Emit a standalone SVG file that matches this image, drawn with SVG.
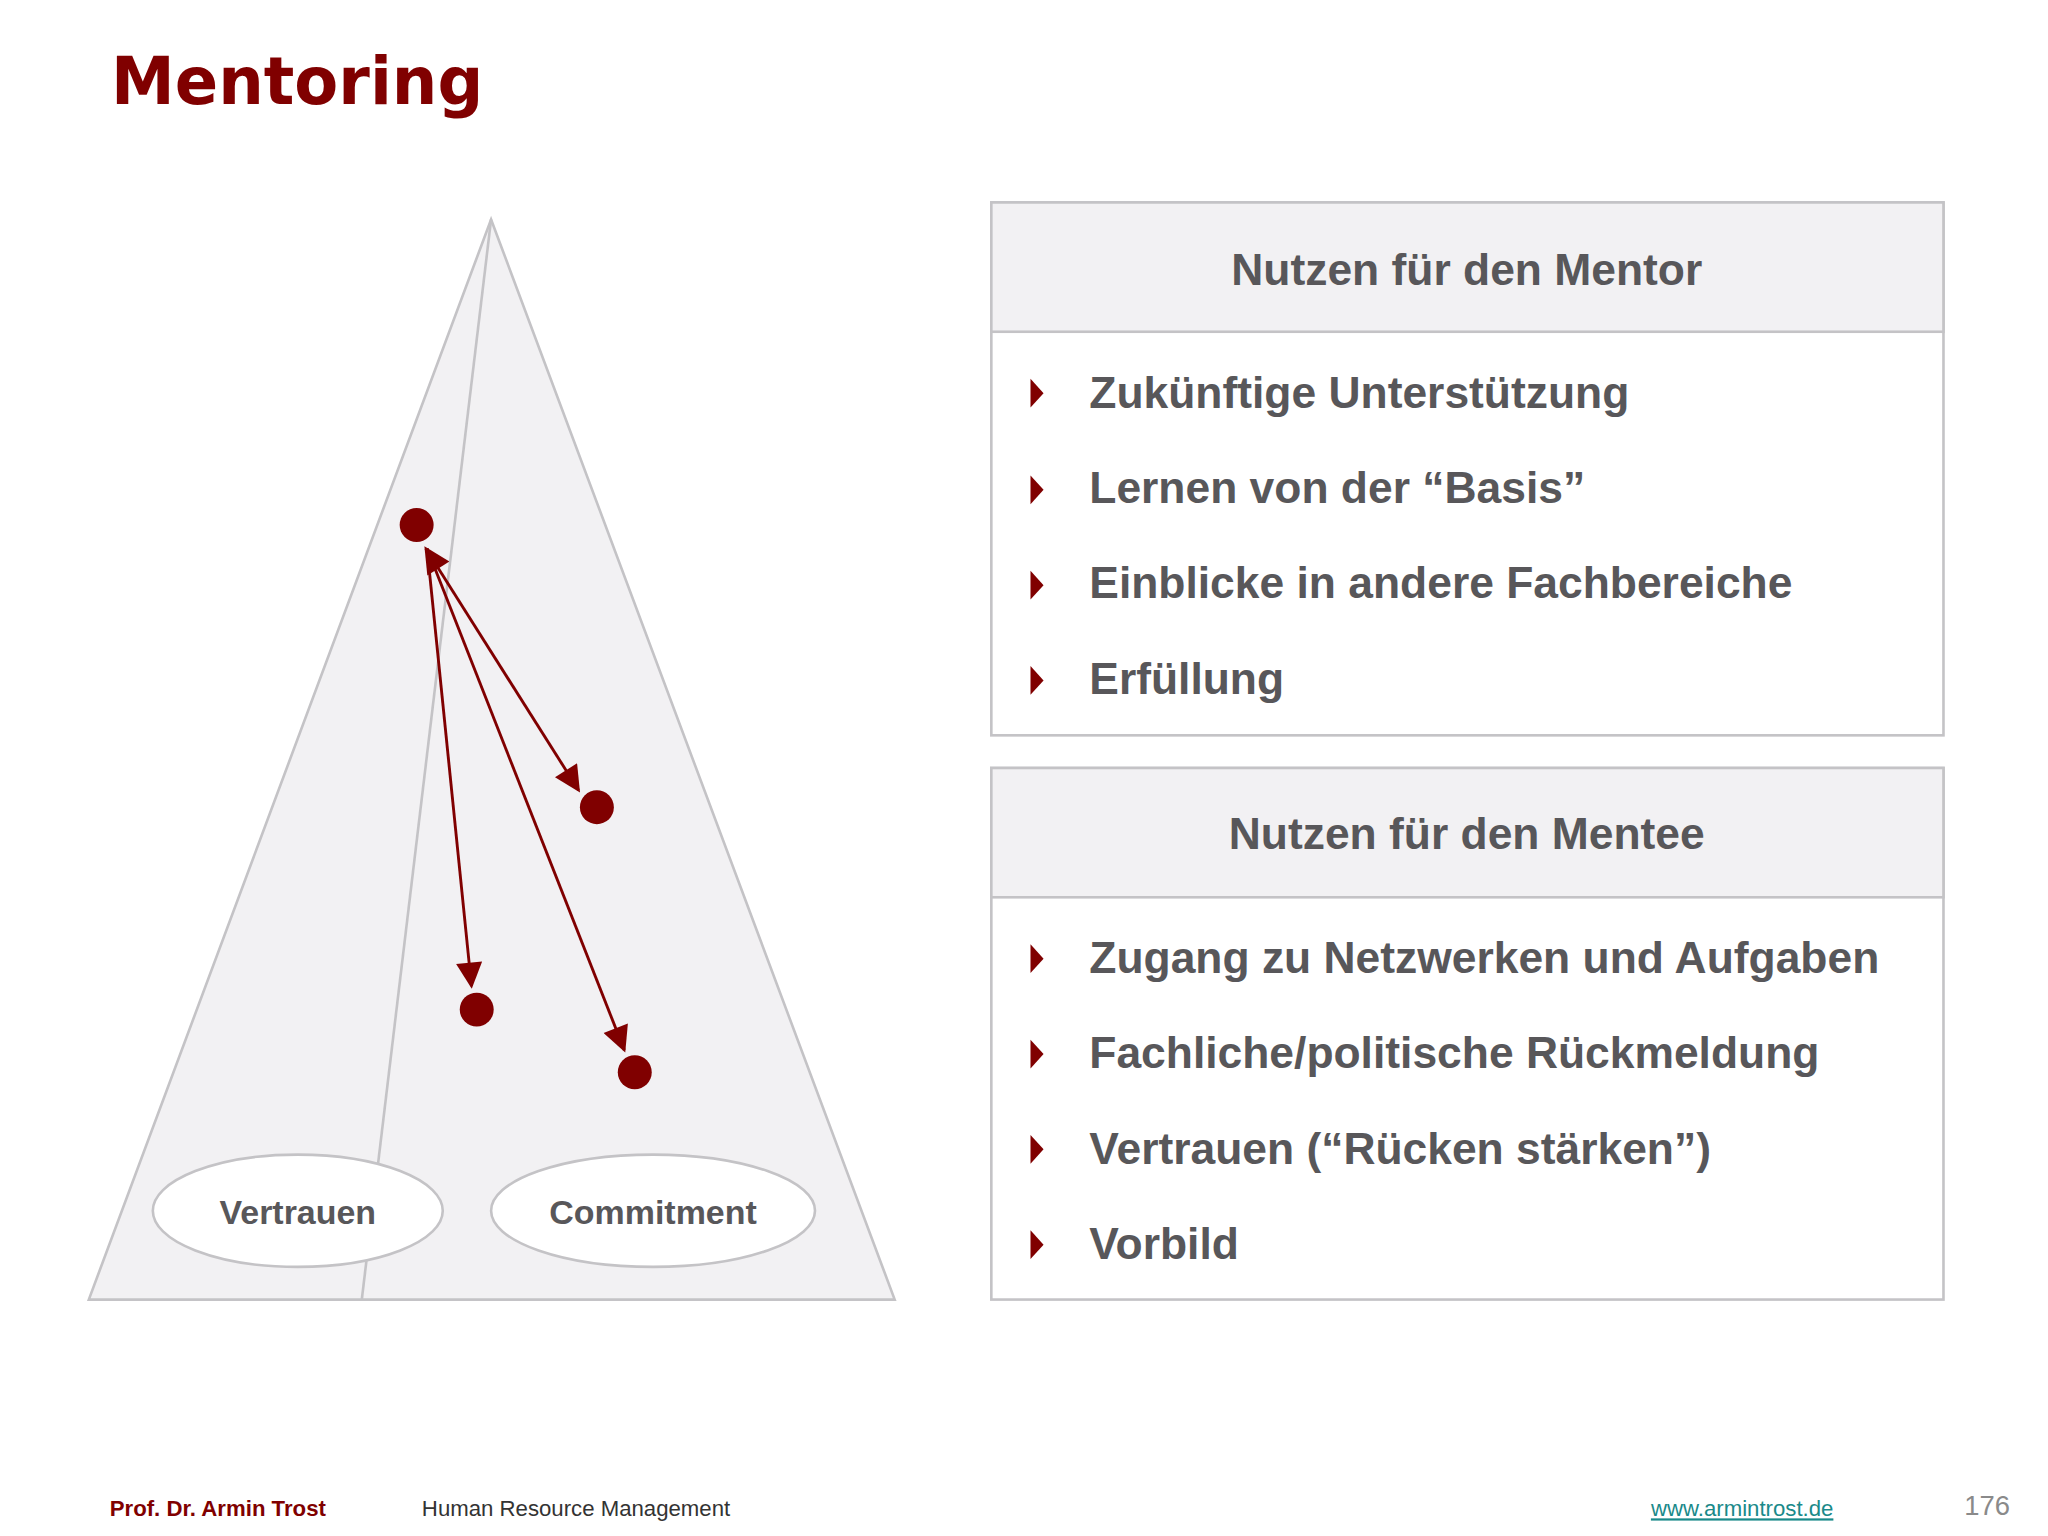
<svg xmlns="http://www.w3.org/2000/svg" width="2048" height="1536" viewBox="0 0 2048 1536">
<defs>
<style>
.t{font-family:"Liberation Sans",Arial,sans-serif;font-weight:bold;fill:#58575a}
.b{font-size:34px}
.o{fill:#ffffff;stroke:#c4c3c6;stroke-width:2}
.dot{fill:#800000}
.ar{stroke:#800000;stroke-width:2.2;fill:none}
.bul{fill:#800000}
</style>
<marker id="ah2" viewBox="0 0 10 10" refX="9" refY="5" markerWidth="22" markerHeight="20" orient="auto-start-reverse" markerUnits="userSpaceOnUse"><path d="M0,0 L10,5 L0,10 z" fill="#800000"/></marker>
</defs>
<rect width="2048" height="1536" fill="#ffffff"/>
<g transform="scale(1.3061)">
<text x="85" y="80" font-family="DejaVu Sans,Verdana,sans-serif" font-weight="bold" font-size="50" fill="#800000" textLength="285" lengthAdjust="spacingAndGlyphs">Mentoring</text>
<g id="pyramid">
<polygon points="376,168 68,995 685,995" fill="#f2f1f3" stroke="#c4c3c6" stroke-width="2"/>
<line x1="376" y1="168" x2="277" y2="995" stroke="#c4c3c6" stroke-width="2"/>
</g>
<g id="vertrauen"><ellipse class="o" cx="228" cy="927" rx="111" ry="43"/><text class="t" x="228" y="937" font-size="26" text-anchor="middle">Vertrauen</text></g>
<g id="commitment"><ellipse class="o" cx="500" cy="927" rx="124" ry="43"/><text class="t" x="500" y="937" font-size="26" text-anchor="middle">Commitment</text></g>
<g id="dots">
<circle class="dot" cx="319" cy="402" r="13"/>
<circle class="dot" cx="457" cy="618" r="13"/>
<circle class="dot" cx="365" cy="773" r="13"/>
<circle class="dot" cx="486" cy="821" r="13"/>
</g>
<g id="connectors">
<line class="ar" x1="326" y1="420" x2="443" y2="605" marker-start="url(#ah2)" marker-end="url(#ah2)"/>
<line class="ar" x1="327" y1="420" x2="361" y2="755" marker-end="url(#ah2)"/>
<line class="ar" x1="327" y1="420" x2="478" y2="804" marker-end="url(#ah2)"/>
</g>
<g id="mentor">
<rect x="759" y="155" width="729" height="408" fill="#ffffff" stroke="#c4c3c6" stroke-width="2"/>
<rect x="759" y="155" width="729" height="99" fill="#f2f1f3" stroke="#c4c3c6" stroke-width="2"/>
<text class="t b" x="1123" y="218" text-anchor="middle">Nutzen für den Mentor</text>
<path class="bul" d="M789,290 L799,301 L789,312 z"/><text class="t b" x="834" y="312">Zukünftige Unterstützung</text>
<path class="bul" d="M789,364 L799,375 L789,386 z"/><text class="t b" x="834" y="385">Lernen von der “Basis”</text>
<path class="bul" d="M789,437 L799,448 L789,459 z"/><text class="t b" x="834" y="458">Einblicke in andere Fachbereiche</text>
<path class="bul" d="M789,510 L799,521 L789,532 z"/><text class="t b" x="834" y="531">Erfüllung</text>
</g>
<g id="mentee">
<rect x="759" y="588" width="729" height="407" fill="#ffffff" stroke="#c4c3c6" stroke-width="2"/>
<rect x="759" y="588" width="729" height="99" fill="#f2f1f3" stroke="#c4c3c6" stroke-width="2"/>
<text class="t b" x="1123" y="650" text-anchor="middle">Nutzen für den Mentee</text>
<path class="bul" d="M789,723 L799,734 L789,745 z"/><text class="t b" x="834" y="745">Zugang zu Netzwerken und Aufgaben</text>
<path class="bul" d="M789,796 L799,807 L789,818 z"/><text class="t b" x="834" y="818">Fachliche/politische Rückmeldung</text>
<path class="bul" d="M789,869 L799,880 L789,891 z"/><text class="t b" x="834" y="891">Vertrauen (“Rücken stärken”)</text>
<path class="bul" d="M789,942 L799,953 L789,964 z"/><text class="t b" x="834" y="964">Vorbild</text>
</g>
<g id="footer" font-family="Liberation Sans,Arial,sans-serif">
<text x="84" y="1161" font-size="17" font-weight="bold" fill="#800000">Prof. Dr. Armin Trost</text>
<text x="323" y="1161" font-size="17" fill="#333333">Human Resource Management</text>
<text x="1264" y="1161" font-size="17" fill="#1a8a8a" text-decoration="underline">www.armintrost.de</text>
<text x="1504" y="1160" font-size="21" fill="#8a8a8a">176</text>
</g>
</g>
</svg>
